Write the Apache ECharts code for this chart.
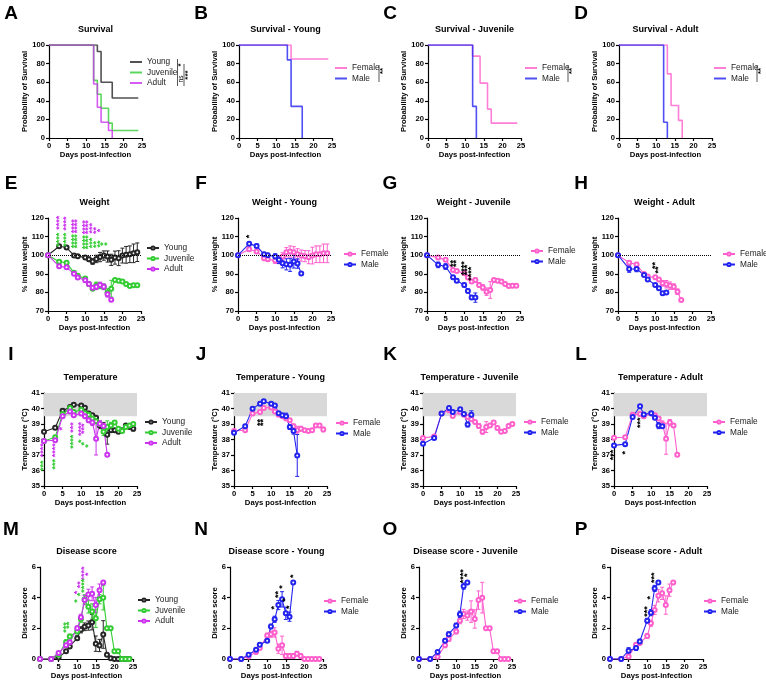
<!DOCTYPE html>
<html>
<head>
<meta charset="utf-8">
<script src="https://cdn.jsdelivr.net/npm/echarts@6/dist/echarts.min.js"></script>
<style>
  html, body { margin: 0; background: #fff; }
  #main { width: 766px; height: 682px; }
</style>
</head>
<body>
<div id="main"></div>
<script>
// ---------- data ----------
const days = [0, 3, 5, 7, 8, 10, 11, 12, 13, 14, 15, 16, 17, 18, 19, 20, 21, 22, 23, 24];

// survival (Kaplan-Meier): day of each step and % surviving after it
const survA_youngT = [0, 13, 14, 17, 24];
const survA_young = [100, 93, 60, 43, 43];
const survA_juvT = [0, 12, 13, 14, 16, 17, 24];
const survA_juv = [100, 62, 47, 32, 16, 8, 8];
const survA_adultT = [0, 12, 13, 14, 16, 17];
const survA_adult = [100, 58, 33, 17, 8, 0];
const survB_femT = [0, 14, 24];
const survB_fem = [100, 85, 85];
const survB_maleT = [0, 13, 14, 17];
const survB_male = [100, 84, 34, 0];
const survC_femT = [0, 12, 14, 16, 17, 24];
const survC_fem = [100, 88, 59, 31, 16, 16];
const survC_maleT = [0, 12, 13];
const survC_male = [100, 34, 0];
const survD_femT = [0, 13, 14, 16, 17];
const survD_fem = [100, 69, 35, 19, 0];
const survD_maleT = [0, 12, 13];
const survD_male = [100, 17, 0];

// weight (% initial), mean and error
const wE_young = [100, 104.8, 104.1, 99.8, 99.5, 98.7, 97.8, 96.6, 98, 99, 99.8, 99.3, 97.5, 98.7, 98.4, 99.8, 100.2, 100.5, 101, 101.6];
const wE_youngErr = [0, 0.8, 0.8, 0.8, 0.8, 1, 1.2, 1.5, 2, 2.5, 2.5, 3, 3, 3.5, 4, 4, 4.5, 4.5, 5, 5];
const wE_juv = [100, 96.5, 96, 90.5, 89, 87.5, 84.5, 82, 84, 83.5, 83, 80, 82, 86.7, 86.3, 85.8, 84.5, 83.5, 83.8, 83.8];
const wE_juvErr = [0, 0.8, 0.8, 0.8, 0.8, 0.8, 1, 1, 1.5, 1.5, 1.5, 2, 4.5, 0.5, 0.5, 0.5, 0.5, 0.5, 0.5, 0.5];
const wE_adult = [100, 94, 93.5, 90, 88, 86.5, 84.5, 82.5, 83, 84, 83, 79, 76];
const wE_adultErr = [0, 0.8, 0.8, 0.8, 0.8, 1, 1, 1, 1.5, 1.5, 1.5, 1.5, 0.5];
const wF_fem = [100, 103.2, 102, 98.4, 97.8, 97.1, 97.5, 99.3, 101.6, 102, 101.6, 100.5, 99.8, 99.5, 98.9, 99.8, 100.5, 100.5, 101, 101];
const wF_femErr = [0, 1, 1, 1, 1, 1.5, 2, 2, 2.5, 3, 3, 3, 3, 3, 3.5, 4.5, 4.5, 4.5, 5, 5];
const wF_male = [100, 106.1, 105, 100.5, 100, 99.3, 97.5, 95.7, 95.1, 94.8, 96.6, 95.5, 90.1];
const wF_maleErr = [0, 1, 1, 1, 1, 1.5, 2, 2.5, 3, 3.5, 3.5, 2.5, 0.5];
const wG_fem = [100, 98.7, 97.5, 92.1, 91.5, 90.3, 88, 85.8, 86.7, 84, 82.7, 80.4, 81.3, 86.7, 86.3, 85.8, 84.5, 83.5, 83.6, 83.6];
const wG_femErr = [0, 0.5, 0.8, 0.8, 0.8, 0.8, 1, 1, 1.2, 1.2, 1.5, 2, 4.5, 0.5, 0.5, 0.5, 0.5, 0.5, 0.5, 0.5];
const wG_male = [100, 94.8, 93.9, 88.1, 86.3, 84, 80.8, 77.2, 77.2];
const wG_maleErr = [0, 1.5, 1.5, 1, 0.8, 1, 1, 1, 2.5];
const wH_fem = [100, 96, 95, 89.9, 88.5, 88.1, 86.9, 84.9, 84.4, 83.6, 83.1, 80.4, 75.9];
const wH_femErr = [0, 1, 1, 0.8, 0.8, 1, 1, 1.5, 2, 2, 1.5, 1.5, 0.5];
const wH_male = [100, 92.6, 92.6, 89.4, 87, 84, 82.2, 79.5, 80];
const wH_maleErr = [0, 1.8, 1.5, 0.8, 0.8, 0.8, 0.8, 0.8, 0.8];

// temperature (°C)
const tI_young = [38.5, 38.76, 39.86, 40.1, 40.25, 40.2, 40.05, 39.67, 39.56, 39.4, 38.9, 38.8, 38.3, 38.6, 38.6, 38.5, 38.6, 38.9, 38.8, 38.7];
const tI_youngErr = [0.05, 0.1, 0.1, 0.1, 0.1, 0.1, 0.1, 0.1, 0.1, 0.1, 0.2, 0.3, 0.6, 0.15, 0.1, 0.1, 0.1, 0.1, 0.1, 0.15];
const tI_juv = [37.9, 38.14, 39.64, 40.03, 39.77, 39.92, 39.7, 39.6, 39.35, 39.17, 39.0, 38.5, 38.8, 38.9, 39.1, 38.7, 38.55, 38.8, 38.9, 39.0];
const tI_juvErr = [0.1, 0.1, 0.1, 0.1, 0.1, 0.1, 0.1, 0.1, 0.1, 0.15, 0.2, 0.25, 0.4, 0.2, 0.1, 0.1, 0.1, 0.1, 0.1, 0.1];
const tI_adult = [37.9, 37.95, 39.5, 39.8, 39.56, 39.67, 39.5, 39.24, 39.1, 38.05, 39.02, 38.87, 37.02];
const tI_adultErr = [0.1, 0.1, 0.1, 0.1, 0.1, 0.1, 0.1, 0.15, 0.2, 1.05, 0.2, 0.15, 0];
const tJ_fem = [38.55, 38.6, 39.67, 39.77, 40.03, 40.07, 39.8, 39.6, 39.5, 39.35, 39.24, 38.85, 38.6, 38.7, 38.6, 38.55, 38.6, 38.9, 38.9, 38.65];
const tJ_femErr = [0.05, 0.05, 0.1, 0.1, 0.1, 0.1, 0.1, 0.1, 0.1, 0.1, 0.1, 0.15, 0.25, 0.15, 0.1, 0.1, 0.1, 0.1, 0.1, 0.15];
const tJ_male = [38.44, 38.85, 39.99, 40.31, 40.46, 40.31, 40.2, 39.7, 39.56, 39.5, 38.8, 38.55, 36.97];
const tJ_maleErr = [0.05, 0.1, 0.1, 0.1, 0.1, 0.1, 0.1, 0.1, 0.1, 0.2, 0.15, 0.2, 1.35];
const tK_fem = [38.1, 38.2, 39.67, 39.88, 39.52, 39.77, 39.6, 39.45, 39.3, 39.13, 38.87, 38.5, 38.8, 38.9, 39.1, 38.75, 38.5, 38.55, 38.87, 39.0];
const tK_femErr = [0.1, 0.1, 0.1, 0.1, 0.1, 0.1, 0.1, 0.1, 0.1, 0.1, 0.15, 0.15, 0.35, 0.1, 0.1, 0.1, 0.1, 0.1, 0.1, 0.1];
const tK_male = [37.73, 38.1, 39.67, 40.03, 39.77, 39.95, 39.64, 38.96, 39.6];
const tK_maleErr = [0.1, 0.1, 0.1, 0.1, 0.1, 0.1, 0.1, 0.15, 0.25];
const tL_fem = [38.12, 38.15, 39.6, 39.64, 39.5, 39.67, 39.57, 39.35, 39.0, 38.05, 39.09, 38.9, 37.02];
const tL_femErr = [0.05, 0.1, 0.1, 0.1, 0.1, 0.1, 0.1, 0.1, 0.2, 1.0, 0.2, 0.1, 0];
const tL_male = [37.62, 37.7, 39.45, 40.14, 39.62, 39.7, 39.4, 38.9, 38.85];
const tL_maleErr = [0.1, 0.1, 0.1, 0.1, 0.1, 0.1, 0.1, 0.2, 0.1];

// disease score
const dM_young = [0, 0, 0.1, 0.5, 0.82, 1.36, 1.9, 2.1, 2.18, 2.4, 1.0, 0.88, 1.6, 0.28, 0.05, 0, 0, 0, 0, 0];
const dM_youngErr = [0, 0, 0.05, 0.1, 0.1, 0.15, 0.2, 0.25, 0.3, 0.5, 0.5, 0.4, 0.9, 0.1, 0.05, 0, 0, 0, 0, 0];
const dM_juv = [0, 0, 0.28, 1.1, 1.47, 1.79, 2.6, 3.89, 3.4, 3.1, 2.65, 3.9, 4.0, 2.0, 2.0, 0.5, 0.5, 0, 0, 0];
const dM_juvErr = [0, 0, 0.1, 0.15, 0.15, 0.15, 0.2, 0.3, 0.4, 0.5, 0.6, 0.3, 0.8, 0, 0, 0, 0, 0, 0, 0];
const dM_adult = [0, 0, 0.39, 0.89, 1.1, 2.0, 2.72, 3.84, 4.2, 4.25, 3.52, 4.49, 4.99];
const dM_adultErr = [0, 0, 0.1, 0.1, 0.1, 0.15, 0.2, 0.3, 0.35, 0.45, 0.5, 0.4, 0];
const dN_fem = [0, 0, 0.17, 0.45, 0.71, 1.53, 1.62, 1.73, 0.67, 0.89, 0.2, 0.2, 0.2, 0.35, 0.2, 0, 0, 0, 0, 0];
const dN_femErr = [0, 0, 0.05, 0.1, 0.1, 0.15, 0.2, 0.3, 0.3, 0.6, 0.15, 0.15, 0.15, 0.15, 0.15, 0, 0, 0, 0, 0];
const dN_male = [0, 0, 0.28, 0.6, 0.93, 1.19, 2.12, 2.59, 3.52, 3.89, 2.98, 2.76, 4.99];
const dN_maleErr = [0, 0, 0.1, 0.1, 0.1, 0.1, 0.15, 0.2, 0.3, 0.5, 0.4, 0.3, 0];
const dO_fem = [0, 0, 0.15, 0.89, 1.3, 1.79, 2.5, 2.94, 2.83, 3.09, 2.61, 3.84, 4.0, 2.0, 2.0, 0.5, 0.5, 0, 0, 0];
const dO_femErr = [0, 0, 0.1, 0.15, 0.15, 0.15, 0.2, 0.3, 0.3, 0.7, 0.6, 0.6, 1.0, 0, 0, 0, 0, 0, 0, 0];
const dO_male = [0, 0, 0.45, 1.19, 1.62, 2.18, 2.92, 4.75, 4.99];
const dO_maleErr = [0, 0, 0.1, 0.15, 0.15, 0.15, 0.2, 0.2, 0];
const dP_fem = [0, 0, 0.17, 0.93, 1.04, 1.5, 2.33, 3.2, 4.12, 4.28, 3.52, 4.49, 4.99];
const dP_femErr = [0, 0, 0.1, 0.1, 0.1, 0.15, 0.2, 0.3, 0.4, 0.4, 0.6, 0.4, 0];
const dP_male = [0, 0, 0.54, 0.71, 1.14, 2.5, 3.02, 4.6, 4.99];
const dP_maleErr = [0, 0, 0.2, 0.15, 0.15, 0.15, 0.2, 0.2, 0];

// significance stars: [day, value, text]
const starsE_adult = [[3, 117.5, '****'], [5, 117, '****'], [7, 115.5, '****'], [8, 115.5, '****'], [10, 115, '****'], [11, 115, '****'], [12, 114.5, '***'], [13, 113.3, '**'], [14, 113.3, '*']];
const starsE_juv = [[3, 108.3, '****'], [5, 108.3, '****'], [7, 107.5, '****'], [8, 107.5, '****'], [10, 107, '****'], [11, 107, '****'], [12, 106.5, '***'], [13, 105.7, '**'], [14, 106, '**'], [15, 106, '*'], [16, 106, '*']];
const starsF = [[3, 110, '*']];
const starsG = [[7, 95.5, '**'], [8, 95.5, '**'], [10, 93, '****'], [11, 92, '***'], [12, 90, '****']];
const starsH = [[10, 94.5, '**'], [11, 92, '**']];
const starsI_adult = [[0, 37.3, '****'], [3, 37.3, '****'], [5, 38.7, '*'], [8, 38.77, '***'], [10, 38.67, '****'], [11, 38.7, '***']];
const starsI_juv = [[0, 36.3, '***'], [3, 36.4, '***'], [8, 37.85, '****'], [10, 37.88, '*'], [11, 37.73, '*'], [12, 37.58, '*']];
const starsJ = [[7, 39.1, '**'], [8, 39.1, '**']];
const starsL = [[0, 37.0, '***'], [3, 37.15, '*'], [7, 39.08, '***']];
const starsM_adult = [[10, 4.34, '*'], [11, 4.85, '**'], [12, 5.57, '****'], [13, 5.52, '*']];
const starsM_juv = [[7, 2.06, '***'], [8, 2.2, '**'], [10, 3.78, '*'], [11, 4.2, '*'], [12, 4.78, '****']];
const starsN = [[12, 3.35, '*'], [13, 4.2, '**'], [14, 4.7, '*'], [15, 3.84, '*'], [16, 3.37, '*'], [17, 5.4, '*']];
const starsO = [[12, 5.4, '****'], [13, 5.46, '*']];
const starsP = [[10, 3.1, '***'], [11, 4.0, '*'], [12, 5.3, '***']];

// ---------- styling / layout ----------
const COL = { young: '#262626', juv: '#33cc33', adult: '#cc33ee', fem: '#ff5fcc', male: '#2323f0' };
const FONT = 'Liberation Sans';
const W = 93;
const colX = [0, 190, 379, 570];
const rowGeo = [
  { left: 49, top: 45, h: 93 },
  { left: 48, top: 218, h: 93 },
  { left: 44, top: 393, h: 93 },
  { left: 40, top: 567, h: 92 }
];
const yCfg = [
  { min: 0, max: 100, interval: 20, name: 'Probability of Survival' },
  { min: 70, max: 120, interval: 10, name: '% initial weight' },
  { min: 35, max: 41, interval: 1, name: 'Temperature (°C)' },
  { min: 0, max: 6, interval: 2, name: 'Disease score' }
];
const letterY = [14, 184, 355, 530];

const panels = [
  { id: 'A', r: 0, c: 0, title: 'Survival', surv: true, leg: [130, 62], lines: [
    { n: 'Young', col: COL.young, x: survA_youngT, y: survA_young },
    { n: 'Juvenile', col: COL.juv, x: survA_juvT, y: survA_juv },
    { n: 'Adult', col: COL.adult, x: survA_adultT, y: survA_adult }] },
  { id: 'B', r: 0, c: 1, title: 'Survival - Young', surv: true, leg: [335, 68], lines: [
    { n: 'Female', col: COL.fem, x: survB_femT, y: survB_fem },
    { n: 'Male', col: COL.male, x: survB_maleT, y: survB_male }] },
  { id: 'C', r: 0, c: 2, title: 'Survival - Juvenile', surv: true, leg: [525, 68], lines: [
    { n: 'Female', col: COL.fem, x: survC_femT, y: survC_fem },
    { n: 'Male', col: COL.male, x: survC_maleT, y: survC_male }] },
  { id: 'D', r: 0, c: 3, title: 'Survival - Adult', surv: true, leg: [714, 68], lines: [
    { n: 'Female', col: COL.fem, x: survD_femT, y: survD_fem },
    { n: 'Male', col: COL.male, x: survD_maleT, y: survD_male }] },

  { id: 'E', r: 1, c: 0, title: 'Weight', leg: [146, 248], lines: [
    { n: 'Young', col: COL.young, y: wE_young, e: wE_youngErr },
    { n: 'Juvenile', col: COL.juv, y: wE_juv, e: wE_juvErr },
    { n: 'Adult', col: COL.adult, y: wE_adult, e: wE_adultErr }],
    stars: [{ col: COL.adult, pts: starsE_adult }, { col: COL.juv, pts: starsE_juv }] },
  { id: 'F', r: 1, c: 1, title: 'Weight - Young', leg: [343, 254], lines: [
    { n: 'Female', col: COL.fem, y: wF_fem, e: wF_femErr },
    { n: 'Male', col: COL.male, y: wF_male, e: wF_maleErr }],
    stars: [{ col: '#000', pts: starsF }] },
  { id: 'G', r: 1, c: 2, title: 'Weight - Juvenile', leg: [530, 251], lines: [
    { n: 'Female', col: COL.fem, y: wG_fem, e: wG_femErr },
    { n: 'Male', col: COL.male, y: wG_male, e: wG_maleErr }],
    stars: [{ col: '#000', pts: starsG }] },
  { id: 'H', r: 1, c: 3, title: 'Weight - Adult', leg: [722, 254], lines: [
    { n: 'Female', col: COL.fem, y: wH_fem, e: wH_femErr },
    { n: 'Male', col: COL.male, y: wH_male, e: wH_maleErr }],
    stars: [{ col: '#000', pts: starsH }] },

  { id: 'I', r: 2, c: 0, title: 'Temperature', leg: [144, 422], lines: [
    { n: 'Young', col: COL.young, y: tI_young, e: tI_youngErr },
    { n: 'Juvenile', col: COL.juv, y: tI_juv, e: tI_juvErr },
    { n: 'Adult', col: COL.adult, y: tI_adult, e: tI_adultErr }],
    stars: [{ col: COL.adult, pts: starsI_adult }, { col: COL.juv, pts: starsI_juv }] },
  { id: 'J', r: 2, c: 1, title: 'Temperature - Young', leg: [335, 423], lines: [
    { n: 'Female', col: COL.fem, y: tJ_fem, e: tJ_femErr },
    { n: 'Male', col: COL.male, y: tJ_male, e: tJ_maleErr }],
    stars: [{ col: '#000', pts: starsJ }] },
  { id: 'K', r: 2, c: 2, title: 'Temperature - Juvenile', leg: [523, 422], lines: [
    { n: 'Female', col: COL.fem, y: tK_fem, e: tK_femErr },
    { n: 'Male', col: COL.male, y: tK_male, e: tK_maleErr }] },
  { id: 'L', r: 2, c: 3, title: 'Temperature - Adult', leg: [712, 422], lines: [
    { n: 'Female', col: COL.fem, y: tL_fem, e: tL_femErr },
    { n: 'Male', col: COL.male, y: tL_male, e: tL_maleErr }],
    stars: [{ col: '#000', pts: starsL }] },

  { id: 'M', r: 3, c: 0, title: 'Disease score', leg: [137, 600], lines: [
    { n: 'Young', col: COL.young, y: dM_young, e: dM_youngErr },
    { n: 'Juvenile', col: COL.juv, y: dM_juv, e: dM_juvErr },
    { n: 'Adult', col: COL.adult, y: dM_adult, e: dM_adultErr }],
    stars: [{ col: COL.adult, pts: starsM_adult }, { col: COL.juv, pts: starsM_juv }] },
  { id: 'N', r: 3, c: 1, title: 'Disease score - Young', leg: [323, 601], lines: [
    { n: 'Female', col: COL.fem, y: dN_fem, e: dN_femErr },
    { n: 'Male', col: COL.male, y: dN_male, e: dN_maleErr }],
    stars: [{ col: '#000', pts: starsN }] },
  { id: 'O', r: 3, c: 2, title: 'Disease score - Juvenile', leg: [513, 601], lines: [
    { n: 'Female', col: COL.fem, y: dO_fem, e: dO_femErr },
    { n: 'Male', col: COL.male, y: dO_male, e: dO_maleErr }],
    stars: [{ col: '#000', pts: starsO }] },
  { id: 'P', r: 3, c: 3, title: 'Disease score - Adult', leg: [703, 601], lines: [
    { n: 'Female', col: COL.fem, y: dP_fem, e: dP_femErr },
    { n: 'Male', col: COL.male, y: dP_male, e: dP_maleErr }],
    stars: [{ col: '#000', pts: starsP }] }
];

// ---------- helpers ----------
function txt(x, y, text, font, opts) {
  opts = opts || {};
  return {
    type: 'text', x: x, y: y, rotation: opts.rot || 0, silent: true,
    style: {
      text: text, font: font, fill: opts.fill || '#000',
      align: opts.align || 'center', textAlign: opts.align || 'center',
      verticalAlign: 'middle', textVerticalAlign: 'middle'
    }
  };
}
function seg(x1, y1, x2, y2, color, width) {
  return { type: 'line', silent: true, shape: { x1: x1, y1: y1, x2: x2, y2: y2 },
    style: { stroke: color || '#555', lineWidth: width || 1 } };
}

function errSeries(color, xs, ys, es, gi) {
  return {
    type: 'custom', xAxisIndex: gi, yAxisIndex: gi, silent: true, z: 3,
    data: xs.map((x, i) => [x, ys[i], es[i]]),
    renderItem: function (params, api) {
      const x = api.value(0), y = api.value(1), e = api.value(2);
      if (!e) return null;
      const t = api.coord([x, y + e]), b = api.coord([x, y - e]);
      const st = { stroke: color, lineWidth: 1 };
      return {
        type: 'group', children: [
          { type: 'line', shape: { x1: t[0], y1: t[1], x2: b[0], y2: b[1] }, style: st },
          { type: 'line', shape: { x1: t[0] - 2, y1: t[1], x2: t[0] + 2, y2: t[1] }, style: st },
          { type: 'line', shape: { x1: b[0] - 2, y1: b[1], x2: b[0] + 2, y2: b[1] }, style: st }
        ]
      };
    }
  };
}

function starSeries(color, pts, gi) {
  return {
    type: 'custom', xAxisIndex: gi, yAxisIndex: gi, silent: true, z: 6,
    data: pts.map(p => [p[0], p[1]]),
    renderItem: function (params, api) {
      const p = api.coord([api.value(0), api.value(1)]);
      return {
        type: 'text', x: p[0], y: p[1], rotation: Math.PI / 2,
        style: {
          text: pts[params.dataIndex][2], fill: color, font: 'bold 9px ' + FONT,
          align: 'center', textAlign: 'center', verticalAlign: 'middle', textVerticalAlign: 'middle'
        }
      };
    }
  };
}

const axisBase = {
  type: 'value',
  splitLine: { show: false },
  axisLine: { show: true, lineStyle: { color: '#000', width: 1.2 } },
  axisTick: { show: true, length: 3, lineStyle: { color: '#000', width: 1.2 } },
  axisLabel: { fontSize: 7.6, fontWeight: 'bold', color: '#000', margin: 4, fontFamily: FONT }
};

// ---------- build option ----------
const grids = [], xAxes = [], yAxes = [], series = [], legends = [], graphics = [];

panels.forEach((p, gi) => {
  const g = rowGeo[p.r];
  const left = g.left + colX[p.c];
  const cx = left + W / 2;
  grids.push({ left: left, top: g.top, width: W, height: g.h, outerBoundsMode: 'none' });
  xAxes.push(Object.assign({}, axisBase, { gridIndex: gi, min: 0, max: 25, interval: 5 }));
  const yc = yCfg[p.r];
  yAxes.push(Object.assign({}, axisBase, { gridIndex: gi, min: yc.min, max: yc.max, interval: yc.interval }));

  // texts around the panel
  graphics.push(txt(colX[p.c] + 11, letterY[p.r], p.id, 'bold 19px ' + FONT));
  graphics.push(txt(cx, g.top - 15, p.title, 'bold 9px ' + FONT));
  graphics.push(txt(cx, g.top + g.h + 17, 'Days post-infection', 'bold 7.7px ' + FONT));
  graphics.push(txt(colX[p.c] + 24.5, g.top + g.h / 2, yc.name, 'bold 7.7px ' + FONT, { rot: Math.PI / 2 }));

  p.lines.forEach((s, k) => {
    const xs = (s.x || days).slice(0, s.y.length);
    const ser = {
      type: 'line', name: p.id + '|' + s.n, xAxisIndex: gi, yAxisIndex: gi,
      data: xs.map((x, i) => [x, s.y[i]]), silent: true
    };
    if (p.surv) {
      ser.step = 'end';
      ser.symbol = 'none';
      ser.lineStyle = { color: s.col, width: 1.6, opacity: 0.8 };
      ser.itemStyle = { color: s.col, opacity: 0.8 };
    } else {
      ser.symbol = 'emptyCircle';
      ser.symbolSize = 4;
      ser.lineStyle = { color: s.col, width: 1.1 };
      ser.itemStyle = { color: s.col, borderColor: s.col, borderWidth: 1 };
    }
    if (k === 0 && p.r === 1) {
      ser.markLine = {
        silent: true, symbol: 'none', label: { show: false },
        lineStyle: { color: '#000', type: 'dotted', width: 1 },
        data: [{ yAxis: 100 }]
      };
    }
    if (k === 0 && p.r === 2) {
      ser.markArea = {
        silent: true, itemStyle: { color: '#d9d9d9' },
        data: [[{ yAxis: 39.5 }, { yAxis: 41 }]]
      };
    }
    series.push(ser);
    if (s.e) series.push(errSeries(s.col, xs, s.y, s.e, gi));
  });
  (p.stars || []).forEach(st => series.push(starSeries(st.col, st.pts, gi)));

  legends.push({
    data: p.lines.map(s => p.id + '|' + s.n),
    formatter: n => n.split('|')[1],
    orient: 'vertical', left: p.leg[0], top: p.leg[1] - 5,
    itemWidth: 12, itemHeight: p.surv ? 2 : 4, itemGap: 0.5, padding: 0,
    icon: p.surv ? 'rect' : undefined,
    selectedMode: false,
    textStyle: { fontSize: 8.3, lineHeight: 10, color: '#222', fontFamily: FONT }
  });
});

// significance brackets next to the survival legends
graphics.push(seg(177.5, 59, 177.5, 86), seg(184, 64, 184, 86));
graphics.push(txt(181, 65, '*', 'bold 8px ' + FONT, { rot: Math.PI / 2 }));
graphics.push(txt(181, 79, 'ns', '6.5px ' + FONT, { rot: Math.PI / 2 }));
graphics.push(txt(187.5, 75, '***', 'bold 8px ' + FONT, { rot: Math.PI / 2 }));
graphics.push(seg(379, 65, 379, 82), txt(383, 71, '**', 'bold 8px ' + FONT, { rot: Math.PI / 2 }));
graphics.push(seg(568, 65, 568, 82), txt(572, 71, '**', 'bold 8px ' + FONT, { rot: Math.PI / 2 }));
graphics.push(seg(757, 65, 757, 82), txt(761, 71, '**', 'bold 8px ' + FONT, { rot: Math.PI / 2 }));

const chart = echarts.init(document.getElementById('main'), null, { renderer: 'canvas' });
chart.setOption({
  backgroundColor: '#fff',
  animation: false,
  textStyle: { fontFamily: FONT },
  grid: grids,
  xAxis: xAxes,
  yAxis: yAxes,
  legend: legends,
  series: series,
  graphic: { elements: graphics }
});
</script>
</body>
</html>
